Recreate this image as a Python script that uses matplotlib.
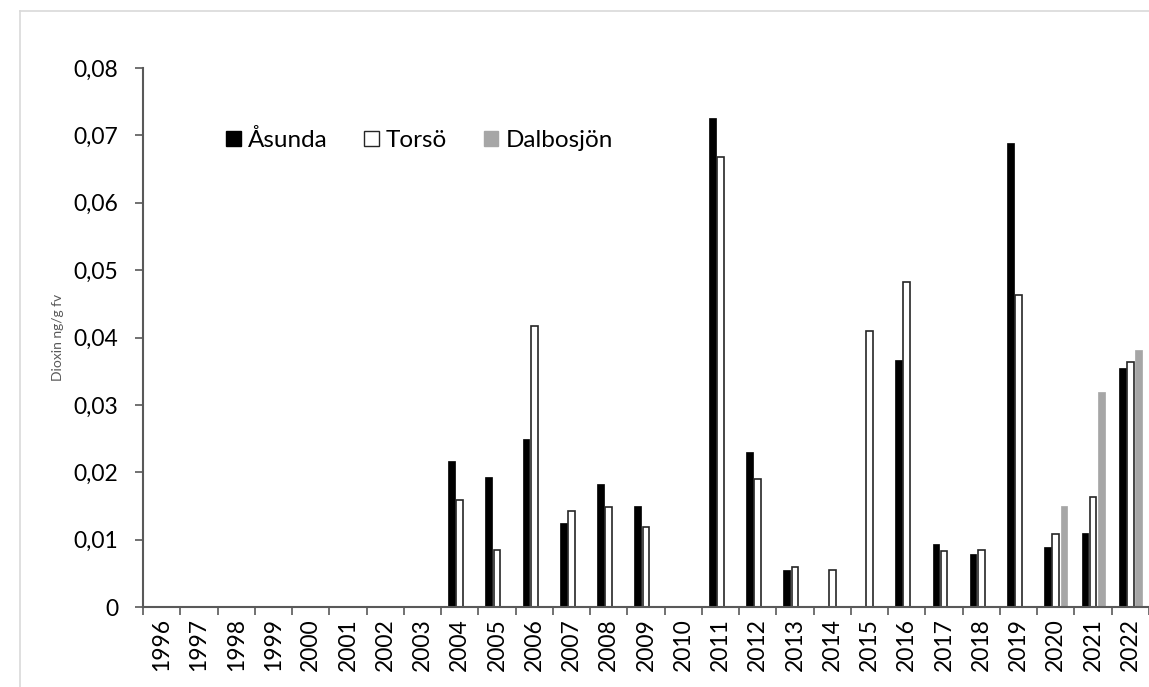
import numpy as np
import matplotlib
matplotlib.use("Agg")
import matplotlib.pyplot as plt
from matplotlib.patches import Rectangle
from matplotlib.lines import Line2D
from matplotlib.ticker import FixedLocator

years = [str(y) for y in range(1996, 2023)]
nan = np.nan
asunda = [nan]*8 + [0.0216, 0.0193, 0.0249, 0.0125, 0.0182, 0.0150, nan, 0.0726, 0.0230,
                    0.0055, nan, nan, 0.0366, 0.0093, 0.0078, 0.0689, 0.0089, 0.0110, 0.0355]
torso = [nan]*8 + [0.0159, 0.0085, 0.0417, 0.0142, 0.0148, 0.0118, nan, 0.0668, 0.0190,
                   0.0060, 0.0055, 0.0410, 0.0482, 0.0083, 0.0085, 0.0463, 0.0108, 0.0163, 0.0364]
dalbo = [nan]*24 + [0.0150, 0.0319, 0.0382]
series_names = ["Åsunda", "Torsö", "Dalbosjön"]
yticks = [0, 0.01, 0.02, 0.03, 0.04, 0.05, 0.06, 0.07, 0.08]
ytick_labels = ["0", "0,01", "0,02", "0,03", "0,04", "0,05", "0,06", "0,07", "0,08"]

plt.rcParams['font.family'] = ['Lato', 'DejaVu Sans']
fig = plt.figure(figsize=(11.49, 6.87), dpi=100)
ax = fig.add_axes([143/1149, 1-607/687, 1-143/1149, (607-68)/687])

x = np.arange(len(years))
w = 0.18
off = 0.22
ax.bar(x - off, asunda, w, color='black', edgecolor='black', linewidth=0.5)
ax.bar(x, torso, w, color='white', edgecolor='#262626', linewidth=1.2)
ax.bar(x + off, dalbo, w, color='#a6a6a6', edgecolor='#a6a6a6', linewidth=0.5)

ax.set_xlim(-0.5, len(years) - 0.5)
ax.set_ylim(0, 0.08)
ax.set_yticks(yticks)
ax.set_yticklabels(ytick_labels, fontsize=16.5)
ax.set_xticks(x)
ax.set_xticklabels(years, rotation=90, fontsize=16.5)
ax.xaxis.set_minor_locator(FixedLocator(np.arange(-0.5, len(years), 1.0)))
ax.tick_params(axis='x', which='major', length=0, pad=8)
ax.tick_params(axis='x', which='minor', length=6, width=1.2, color='#595959', direction='out')
ax.tick_params(axis='y', length=6, width=1.2, color='#595959', direction='out', pad=12)
for s in ['top', 'right']:
    ax.spines[s].set_visible(False)
for s in ['left', 'bottom']:
    ax.spines[s].set_color('#595959')
    ax.spines[s].set_linewidth(1.5)

fig.text(58/1149, 1-337/687, "Dioxin ng/g fv", rotation=90, ha='center', va='center',
         fontsize=10, color='#595959')

handles = [Rectangle((0, 0), 1, 1, facecolor='black', edgecolor='black'),
           Rectangle((0, 0), 1, 1, facecolor='white', edgecolor='#262626', linewidth=1),
           Rectangle((0, 0), 1, 1, facecolor='#a6a6a6', edgecolor='#a6a6a6')]
ax.legend(handles, series_names, loc='center left', bbox_to_anchor=(0.0825, 0.866), ncol=3,
          frameon=False, fontsize=17.5, handlelength=0.6, handleheight=0.6,
          handletextpad=0.3, columnspacing=1.5, borderpad=0, borderaxespad=0)

# outer chart-area border (top and left visible)
fig.add_artist(Line2D([20/1149, 1], [1-11/687, 1-11/687], color='#d9d9d9', lw=1.2))
fig.add_artist(Line2D([20/1149, 20/1149], [0, 1-11/687], color='#d9d9d9', lw=1.2))

fig.savefig("out.png", dpi=100)
